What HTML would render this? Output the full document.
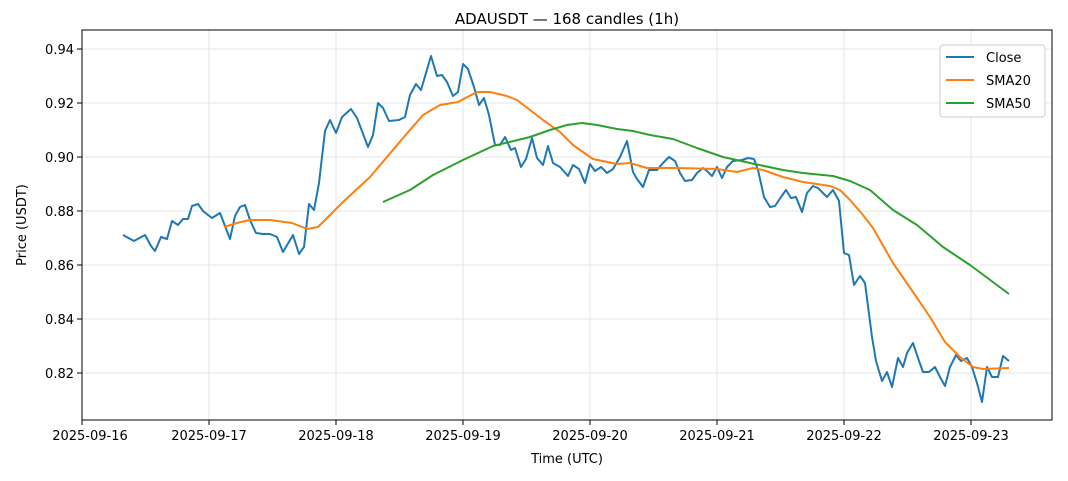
<!DOCTYPE html><html><head><style>body{margin:0;background:#fff}svg{display:block}text{font-family:"DejaVu Sans","Liberation Sans",sans-serif;fill:#000}</style></head><body>
<svg width="1068" height="481" viewBox="0 0 1068 481" xmlns="http://www.w3.org/2000/svg">
<rect width="1068" height="481" fill="#fff"/>
<g stroke="#e6e6e6" stroke-width="1">
<line x1="82" y1="49" x2="1052" y2="49"/><line x1="82" y1="103" x2="1052" y2="103"/><line x1="82" y1="157" x2="1052" y2="157"/><line x1="82" y1="211" x2="1052" y2="211"/><line x1="82" y1="265" x2="1052" y2="265"/><line x1="82" y1="319" x2="1052" y2="319"/><line x1="82" y1="373" x2="1052" y2="373"/>
<line x1="82" y1="30" x2="82" y2="420"/><line x1="209" y1="30" x2="209" y2="420"/><line x1="336" y1="30" x2="336" y2="420"/><line x1="463" y1="30" x2="463" y2="420"/><line x1="590" y1="30" x2="590" y2="420"/><line x1="717" y1="30" x2="717" y2="420"/><line x1="844" y1="30" x2="844" y2="420"/><line x1="971" y1="30" x2="971" y2="420"/>
</g>
<g fill="none" stroke-width="2" stroke-linejoin="round">
<polyline stroke="#1f77b4" points="123,235 134,241 145,235 151,246 155,251 161,237 167,239 172,221 178,225 183,219 188,219 192,206 198,204 203,211 208,215 212,218 220,213 230,239 235,216 240,207 245,205 250,220 256,233 263,234 270,234 277,237 283,252 293,235 299,254 304,247 309,204 314,210 319,183 325,131 330,120 336,133 342,117 351,109 357,118 368,147 373,135 378,103 383,108 389,121 399,120 405,117 410,95 416,84 421,90 431,56 437,76 442,75 447,82 453,96 458,92 463,64 468,69 474,87 479,105 484,98 489,115 495,145 500,145 505,137 511,150 515,148 521,167 526,159 532,138 537,158 543,165 548,146 553,163 560,167 568,176 573,165 579,169 585,183 590,164 595,171 601,167 607,173 613,169 620,157 627,141 633,172 637,179 643,187 649,170 657,170 663,163 669,157 675,161 680,173 685,181 692,180 697,173 703,168 707,171 712,176 717,167 722,178 727,167 733,161 742,160 748,158 754,159 758,170 764,197 770,207 775,206 781,197 786,190 791,198 796,197 802,212 807,193 813,186 818,188 827,197 833,190 839,201 844,253 849,255 854,285 860,276 865,283 872,337 876,361 882,381 887,372 892,387 898,358 903,367 907,353 913,343 918,358 923,372 929,372 935,367 940,377 945,386 950,367 956,355 961,361 967,358 972,367 977,383 982,402 987,367 992,377 998,377 1003,356 1009,361"/>
<polyline stroke="#ff7f0e" points="224,227 237,223 250,220 270,220 292,223 307,229 318,227 330,215 343,202 370,177 387,157 403,138 423,115 440,105 458,102 477,92 490,92 507,96 517,100 530,110 543,120 560,132 573,145 593,159 617,164 630,163 647,168 677,168 717,169 737,172 753,168 763,170 783,177 803,182 830,186 840,190 850,200 863,215 873,228 893,263 913,292 930,317 945,342 960,357 973,367 983,369 1009,368"/>
<polyline stroke="#2ca02c" points="383,202 410,190 433,175 463,160 493,146 530,137 550,130 567,125 582,123 597,125 617,129 633,131 650,135 673,139 697,148 723,157 750,163 783,170 803,173 833,176 850,181 870,190 893,210 917,225 943,247 970,265 1009,294"/>
</g>
<rect x="82" y="30" width="970" height="390" fill="none" stroke="#000" stroke-width="1"/>
<g stroke="#000"><line x1="77" y1="49" x2="82" y2="49"/><line x1="77" y1="103" x2="82" y2="103"/><line x1="77" y1="157" x2="82" y2="157"/><line x1="77" y1="211" x2="82" y2="211"/><line x1="77" y1="265" x2="82" y2="265"/><line x1="77" y1="319" x2="82" y2="319"/><line x1="77" y1="373" x2="82" y2="373"/>
<line x1="82" y1="420" x2="82" y2="425"/><line x1="209" y1="420" x2="209" y2="425"/><line x1="336" y1="420" x2="336" y2="425"/><line x1="463" y1="420" x2="463" y2="425"/><line x1="590" y1="420" x2="590" y2="425"/><line x1="717" y1="420" x2="717" y2="425"/><line x1="844" y1="420" x2="844" y2="425"/><line x1="971" y1="420" x2="971" y2="425"/></g>
<g font-size="13" text-anchor="end"><text x="74" y="54">0.94</text><text x="74" y="108">0.92</text><text x="74" y="162">0.90</text><text x="74" y="216">0.88</text><text x="74" y="270">0.86</text><text x="74" y="324">0.84</text><text x="74" y="378">0.82</text></g>
<g font-size="13" text-anchor="middle"><text x="90" y="440">2025-09-16</text><text x="209" y="440">2025-09-17</text><text x="336" y="440">2025-09-18</text><text x="463" y="440">2025-09-19</text><text x="590" y="440">2025-09-20</text><text x="717" y="440">2025-09-21</text><text x="844" y="440">2025-09-22</text><text x="971" y="440">2025-09-23</text></g>
<text x="567" y="463" font-size="13" text-anchor="middle">Time (UTC)</text>
<text x="26" y="225" font-size="13" text-anchor="middle" transform="rotate(-90 26 225)">Price (USDT)</text>
<text x="567" y="24" font-size="15" text-anchor="middle">ADAUSDT — 168 candles (1h)</text>
<rect x="940" y="45" width="105" height="72" rx="3" fill="#fff" stroke="#ccc"/>
<g stroke-width="2"><line x1="946" y1="57" x2="974" y2="57" stroke="#1f77b4"/><line x1="946" y1="80" x2="974" y2="80" stroke="#ff7f0e"/><line x1="946" y1="103" x2="974" y2="103" stroke="#2ca02c"/></g>
<g font-size="13"><text x="986" y="62">Close</text><text x="986" y="85">SMA20</text><text x="986" y="108">SMA50</text></g>
</svg></body></html>
